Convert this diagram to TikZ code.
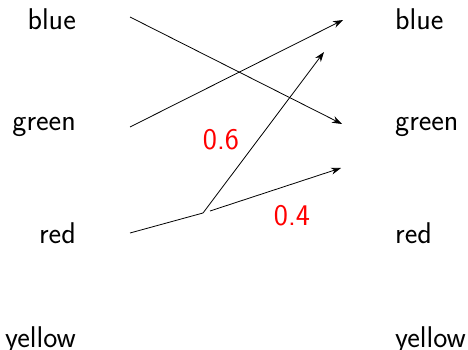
\documentclass[tikz,border=0pt]{standalone}
\usepackage{tikz}
\usetikzlibrary{arrows.meta, positioning}
\tikzset{
	lbl/.style      ={inner sep=0pt, font=\sffamily\fontsize{30}{36}\selectfont},
	lbll/.style     ={lbl, anchor=base east},
	lblr/.style     ={lbl, anchor=base west},
	prob/.style     ={lbl, text=red, anchor=center},
	flowarrow/.style={-{Stealth[length=10pt, width=7pt]}, line width=0.8pt},
	flowline/.style ={line width=0.8pt},
}
\begin{document}
\begin{tikzpicture}[x=1pt, y=-1pt]
	\useasboundingbox (0,0) rectangle (468,350);
	% left colours
	\node[lbll] (lblue)   at (76,30)  {blue};
	\node[lbll] (lgreen)  at (76,131) {green};
	\node[lbll] (lred)    at (76,243) {red};
	\node[lbll] (lyellow) at (76,347) {yellow};
	% right colours
	\node[lblr] (rblue)   at (395,30)  {blue};
	\node[lblr] (rgreen)  at (395,131) {green};
	\node[lblr] (rred)    at (395,243) {red};
	\node[lblr] (ryellow) at (395,347) {yellow};
	% line ends
	\coordinate (sblue)  at (130,17);
	\coordinate (sgreen) at (130,127);
	\coordinate (sred)   at (130,233);
	\coordinate (split)  at (203,213);
	\coordinate (split2) at (210,211);
	\coordinate (tblue)  at (343,20);
	\coordinate (tgreen) at (342,124);
	\coordinate (tmix)   at (324,52);
	\coordinate (tlow)   at (341,168);
	\draw[flowarrow] (sblue) -- (tgreen);
	\draw[flowarrow] (sgreen) -- (tblue);
	\draw[flowline] (sred) -- (split);
	\draw[flowarrow] (split) -- (tmix);
	\draw[flowarrow] (split2) -- (tlow);
	% probabilities
	\node[prob] (p6) at (221,140) {0.6};
	\node[prob] (p4) at (292,216) {0.4};
\end{tikzpicture}
\end{document}
